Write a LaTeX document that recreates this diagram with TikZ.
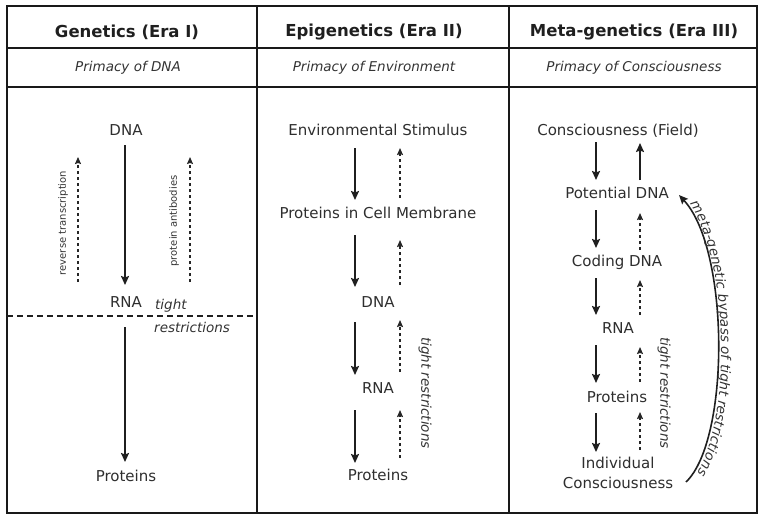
\documentclass[tikz,border=0pt]{standalone}
\usepackage{fontspec}
\setmainfont{DejaVu Sans}
\usetikzlibrary{arrows.meta,decorations.text}
\begin{document}
\begin{tikzpicture}[x=1pt,y=-1pt,
  hdr/.style={font=\fontsize{16.5}{20}\selectfont\bfseries, text=black!88},
  subt/.style={font=\fontsize{13.5}{16}\selectfont\itshape, text=black!80},
  body/.style={font=\fontsize{15}{18}\selectfont, text=black!82, inner sep=0pt, align=center},
  smalllab/.style={font=\fontsize{10}{12}\selectfont, text=black!80},
  note/.style={font=\fontsize{13.5}{16}\selectfont\itshape, text=black!80},
  boxline/.style={line width=2.6pt, draw=black!90},
  arrdown/.style={line width=1.8pt, draw=black!88, -{Stealth[length=9pt,width=8pt,inset=1.5pt]}},
  arrup/.style={line width=1.4pt, draw=black!85, dash pattern=on 3pt off 3pt, -{Stealth[length=7pt,width=6pt,inset=1pt]}},
]
\useasboundingbox (0,0) rectangle (770,520);
% frame
\draw[boxline] (7,6) rectangle (757,513);
\draw[boxline] (7,48) -- (757,48);
\draw[boxline] (7,87) -- (757,87);
\draw[boxline] (257,6) -- (257,513);
\draw[boxline] (509,6) -- (509,513);
% headers
\node[hdr] (h1) at (127,32) {Genetics (Era I)};
\node[hdr] (h2) at (374,32) {Epigenetics (Era II)};
\node[hdr] (h3) at (634,32) {Meta-genetics (Era III)};
\node[subt] (s1) at (128,68) {Primacy of DNA};
\node[subt] (s2) at (374,68) {Primacy of Environment};
\node[subt] (s3) at (634,68) {Primacy of Consciousness};
% column 1
\node[body] (dna1) at (126,130) {DNA};
\node[body] (rna1) at (126,302) {RNA};
\node[body] (prot1) at (126,476) {Proteins};
\draw[arrdown] ([shift={(-1,15)}]dna1.center) -- ([shift={(-1,-17)}]rna1.center);
\draw[arrdown] ([shift={(-1,25)}]rna1.center) -- ([shift={(-1,-14)}]prot1.center);
\draw[arrup] ([shift={(-48,-20)}]rna1.center) -- ([shift={(-48,27)}]dna1.center);
\draw[arrup] ([shift={(64,-20)}]rna1.center) -- ([shift={(64,27)}]dna1.center);
\node[smalllab, rotate=90] (rt) at (63,223) {reverse transcription};
\node[smalllab, rotate=90] (pa) at (174,221) {protein antibodies};
\coordinate (tl) at (7,316);
\coordinate (tr) at (257,316);
\draw[line width=1.8pt, draw=black!88, dash pattern=on 6pt off 4pt] (tl) -- (tr);
\node[note, anchor=west, inner sep=0pt] (tight1a) at (155,306) {tight};
\node[note, anchor=west, inner sep=0pt] (tight1b) at (154,327) {restrictions};
% column 2
\node[body] (env) at (378,130) {Environmental Stimulus};
\node[body] (pcm) at (378,213) {Proteins in Cell Membrane};
\node[body] (dna2) at (378,302) {DNA};
\node[body] (rna2) at (378,388) {RNA};
\node[body] (prot2) at (378,475) {Proteins};
\draw[arrdown] ([shift={(-23,18)}]env.center) -- ([shift={(-23,-13)}]pcm.center);
\draw[arrdown] ([shift={(-23,22)}]pcm.center) -- ([shift={(-23,-15)}]dna2.center);
\draw[arrdown] ([shift={(-23,20)}]dna2.center) -- ([shift={(-23,-13)}]rna2.center);
\draw[arrdown] ([shift={(-23,22)}]rna2.center) -- ([shift={(-23,-12)}]prot2.center);
\draw[arrup] ([shift={(22,-15)}]pcm.center) -- ([shift={(22,18)}]env.center);
\draw[arrup] ([shift={(22,-17)}]dna2.center) -- ([shift={(22,27)}]pcm.center);
\draw[arrup] ([shift={(22,-16)}]rna2.center) -- ([shift={(22,18)}]dna2.center);
\draw[arrup] ([shift={(22,-17)}]prot2.center) -- ([shift={(22,22)}]rna2.center);
\node[note, rotate=-90] (tight2) at (425,393) {tight restrictions};
% column 3
\node[body] (cf) at (618,131) {Consciousness (Field)};
\node[body] (pdna) at (617,193) {Potential DNA};
\node[body] (cdna) at (617,262) {Coding DNA};
\node[body] (rna3) at (618,328) {RNA};
\node[body] (prot3) at (617,397) {Proteins};
\node[body] (ind) at (618,473) {Individual\\[2pt]Consciousness};
\draw[arrdown] ([shift={(-22,11)}]cf.center) -- ([shift={(-21,-13)}]pdna.center);
\draw[arrdown] ([shift={(-21,17)}]pdna.center) -- ([shift={(-21,-14)}]cdna.center);
\draw[arrdown] ([shift={(-21,16)}]cdna.center) -- ([shift={(-22,-13)}]rna3.center);
\draw[arrdown] ([shift={(-22,17)}]rna3.center) -- ([shift={(-21,-14)}]prot3.center);
\draw[arrdown] ([shift={(-21,16)}]prot3.center) -- ([shift={(-22,-21)}]ind.center);
\draw[line width=1.6pt, draw=black!88, -{Stealth[length=9pt,width=8pt,inset=1.5pt]}] ([shift={(23,-13)}]pdna.center) -- ([shift={(22,12)}]cf.center);
\draw[arrup] ([shift={(23,-12)}]cdna.center) -- ([shift={(23,20)}]pdna.center);
\draw[arrup] ([shift={(22,-13)}]rna3.center) -- ([shift={(23,18)}]cdna.center);
\draw[arrup] ([shift={(23,-15)}]prot3.center) -- ([shift={(22,19)}]rna3.center);
\draw[arrup] ([shift={(22,-23)}]ind.center) -- ([shift={(23,15)}]prot3.center);
\node[note, rotate=-90] (tight3) at (664,393) {tight restrictions};
% bypass curve
\draw[line width=1.6pt, draw=black!88, -{Stealth[length=9pt,width=8pt,inset=1.5pt]}] ([shift={(68,9)}]ind.center) .. controls (730,440) and (730,250) .. ([shift={(62,2)}]pdna.center);
\path[decorate, decoration={text along path, raise=3pt, text align=center,
  text={|\fontsize{13.5}{16}\selectfont\itshape\color{black!80}|meta-genetic bypass of tight restrictions}}]
  (679,195) .. controls (730,250) and (730,440) .. (686,482);
\end{tikzpicture}
\end{document}
